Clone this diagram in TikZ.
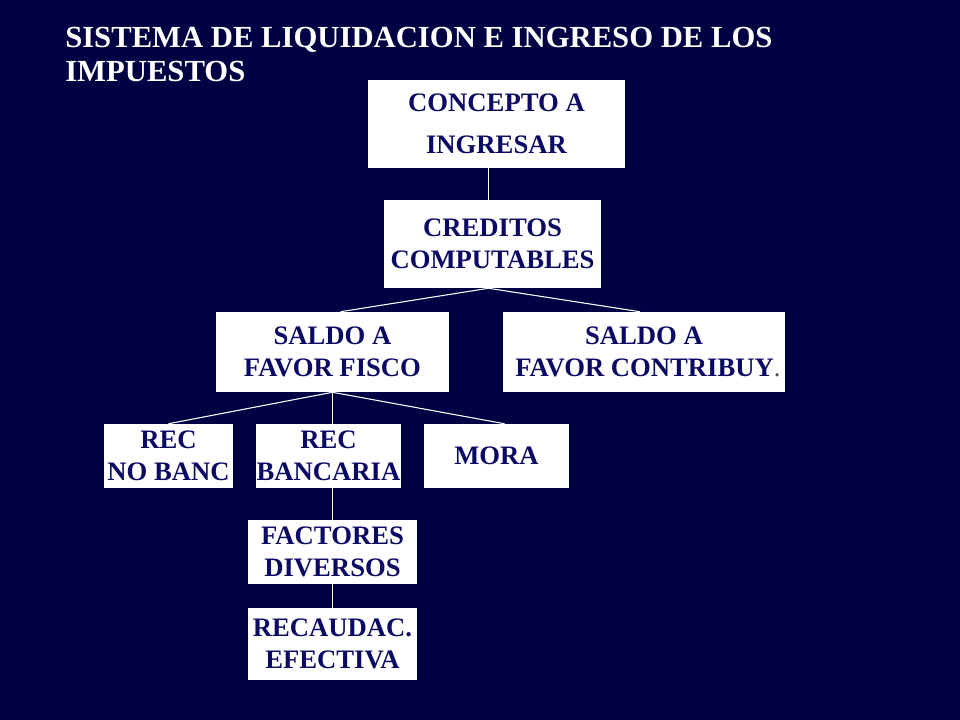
\documentclass[tikz,border=0pt]{standalone}
\usepackage{fontspec}
\setmainfont{Liberation Serif}
\definecolor{fondo}{RGB}{0,0,66}
\definecolor{tinta}{RGB}{10,10,100}
\tikzset{
  caja/.style={fill=white, text=tinta, font=\fontsize{20}{24}\selectfont\bfseries, align=center, inner sep=0pt},
  linea/.style={white, line width=0.8pt}
}
\begin{document}
\begin{tikzpicture}[x=0.75pt,y=-0.75pt]
            \fill[fondo] (0,0) rectangle (960,720);
            \useasboundingbox (0,0) rectangle (960,720);

            \node[anchor=base west, text=white, font=\fontsize{23}{26}\selectfont\bfseries, align=left, inner sep=0pt] (titulo) at (65,82) {SISTEMA DE LIQUIDACION E INGRESO DE LOS\\IMPUESTOS};

            \node[caja, minimum width=192.75pt, minimum height=66pt, font=\fontsize{20}{31.5}\selectfont\bfseries] (concepto) at (496.5,124) {CONCEPTO A\\INGRESAR};
            \node[caja, minimum width=162.75pt, minimum height=66pt] (creditos) at (492.5,244) {CREDITOS\\COMPUTABLES};
            \node[caja, minimum width=174.75pt, minimum height=60pt] (fisco) at (332.5,352) {SALDO A\\FAVOR FISCO};
            \node[caja, minimum width=211.5pt, minimum height=60pt] (contrib) at (644,352) {SALDO A\\\hspace*{0.3em}FAVOR CONTRIBUY{\mdseries\color{black!70}.}};
            \node[caja, minimum width=96.75pt, minimum height=48pt] (nobanc) at (168.5,456) {REC\\NO BANC};
            \node[caja, minimum width=108.75pt, minimum height=48pt] (bancaria) at (328.5,456) {REC\\BANCARIA};
            \node[caja, minimum width=108.75pt, minimum height=48pt] (mora) at (496.5,456) {MORA};
            \node[caja, minimum width=126.75pt, minimum height=48pt] (factores) at (332.5,552) {FACTORES\\DIVERSOS};
            \node[caja, minimum width=126.75pt, minimum height=54pt] (recaudac) at (332.5,644) {RECAUDAC.\\EFECTIVA};

            \draw[linea] ([xshift=-3pt]creditos.north) -- ([xshift=-3pt]creditos.north |- concepto.south);
            \draw[linea] ([xshift=-3pt]creditos.south) -- ([xshift=6pt]fisco.north);
            \draw[linea] ([xshift=-3pt]creditos.south) -- ([xshift=-3pt]contrib.north);
            \draw[linea] (fisco.south) -- (nobanc.north);
            \draw[linea] (bancaria.north -| fisco.south) -- (fisco.south);
            \draw[linea] (fisco.south) -- ([xshift=6pt]mora.north);
            \draw[linea] (bancaria.south -| fisco.south) -- (factores.north -| fisco.south);
            \draw[linea] (factores.south) -- (recaudac.north);
        \end{tikzpicture}
\end{document}
